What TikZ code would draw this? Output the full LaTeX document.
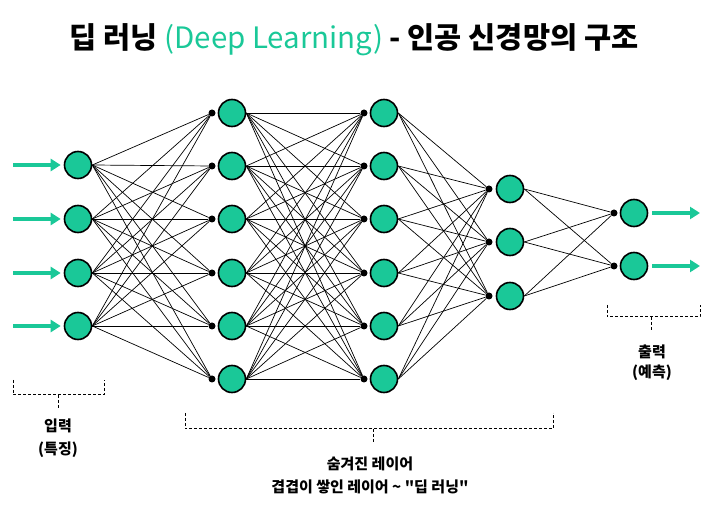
\documentclass[tikz,border=0pt]{standalone}
\usepackage{fontspec}
\setmainfont{Noto Sans CJK KR}[Ligatures=TeXOff]
\usetikzlibrary{arrows.meta}

\definecolor{netgreen}{RGB}{26,200,152}

\tikzset{
  neuron/.style={circle, draw=black, line width=1.6pt, fill=netgreen, minimum size=27pt, inner sep=0pt},
  joint/.style={circle, fill=black, minimum size=7pt, inner sep=0pt},
  link/.style={black, line width=0.7pt},
  flow/.style={netgreen, line width=3.5pt, -{Triangle[length=10pt,width=12pt]}},
  brace/.style={densely dashed, line width=1pt},
  lab/.style={font=\bfseries\fontsize{15}{23}\selectfont, align=center}
}

\begin{document}
\begin{tikzpicture}[x=1pt,y=-1pt]
\useasboundingbox (0,0) rectangle (716,505);

% Titel
\node[font=\bfseries\fontsize{29.5}{34}\selectfont] (title) at (354,40)
  {딥 러닝 {\mdseries\color{netgreen}(Deep Learning)} - 인공 신경망의 구조};

% Eingabeschicht
\foreach \i/\y in {1/165,2/219,3/273,4/326} {
    \node[neuron] (i\i) at (78,\y) {};
    \coordinate (s\i) at (13,\y);
    \draw[flow, shorten >=3pt] (s\i) -- (i\i);
}

% Verborgene Schichten
\foreach \j/\y in {1/113,2/166,3/219,4/273,5/326,6/379} {
    \node[neuron] (a\j) at (232,\y) {};
    \node[joint] (da\j) at (212,\y) {};
    \node[neuron] (b\j) at (384,\y) {};
    \node[joint] (db\j) at (364,\y) {};
}
\foreach \k/\y in {1/189,2/242,3/296} {
    \node[neuron] (c\k) at (510,\y) {};
    \node[joint] (dc\k) at (489,\y) {};
}

% Ausgabeschicht
\foreach \m/\y in {1/213,2/266} {
    \node[neuron] (o\m) at (634,\y) {};
    \node[joint] (do\m) at (614,\y) {};
    \coordinate (e\m) at (700,\y);
    \draw[flow, shorten <=4pt] (o\m) -- (e\m);
}

% Verbindungen
\foreach \i in {1,...,4}
    \foreach \j in {1,...,6}
        \draw[link] (i\i.east) -- (da\j);
\foreach \i in {1,...,6}
    \foreach \j in {1,...,6}
        \draw[link] (a\i.east) -- (db\j);
\foreach \i in {1,...,6}
    \foreach \k in {1,2,3}
        \draw[link] (b\i.east) -- (dc\k);
\foreach \k in {1,2,3}
    \foreach \m in {1,2}
        \draw[link] (c\k.east) -- (do\m);

% Klammern
\draw[brace] (13,380) -- (13,395) -- (104,395) -- (104,380);
\draw[brace] (58.5,395) -- (58.5,408);
\draw[brace] (185,413) -- (185,429) -- (553,429) -- (553,413);
\draw[brace] (373,429) -- (373,443);
\draw[brace] (607,305) -- (607,317) -- (700,317) -- (700,305);
\draw[brace] (651,317) -- (651,330);

% Beschriftungen
\node[lab] (inlab) at (58,438) {입력\\(특징)};
\node[lab] (hidlab) at (370,475) {숨겨진 레이어\\겹겹이 쌓인 레이어 \textasciitilde{} "딥 러닝"};
\node[lab, font=\bfseries\fontsize{15}{20}\selectfont] (outlab) at (652,363) {출력\\(예측)};
\end{tikzpicture}
\end{document}
